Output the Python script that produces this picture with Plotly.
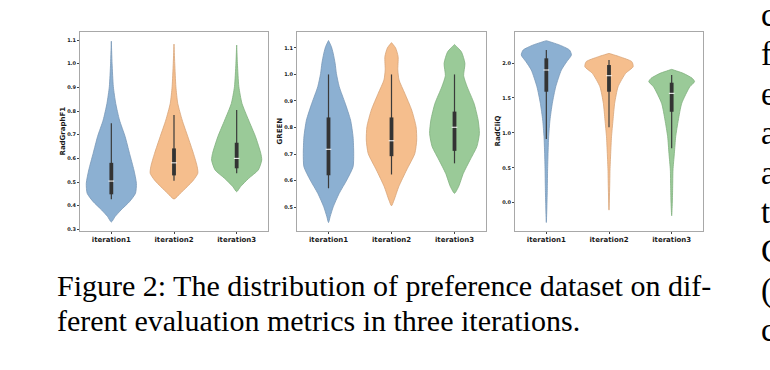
import plotly.graph_objects as go

# ---------------- data ----------------
categories = ["iteration1", "iteration2", "iteration3"]
metrics = ["RadGraphF1", "GREEN", "RadCliQ"]

# violin outlines: value levels and half-widths (category units)
rg_lv1 = [0.331, 0.354, 0.382, 0.417, 0.452, 0.494, 0.551, 0.621, 0.692, 0.762, 0.832, 0.903, 1.0, 1.095]
rg_hw1 = [0.0, 0.06, 0.155, 0.29, 0.385, 0.40, 0.36, 0.29, 0.22, 0.13, 0.07, 0.032, 0.012, 0.0]
rg_lv2 = [0.428, 0.452, 0.480, 0.508, 0.537, 0.565, 0.621, 0.692, 0.762, 0.832, 0.903, 1.0, 1.083]
rg_hw2 = [0.0, 0.10, 0.21, 0.31, 0.38, 0.37, 0.31, 0.22, 0.13, 0.06, 0.03, 0.012, 0.0]
rg_lv3 = [0.459, 0.480, 0.515, 0.551, 0.593, 0.621, 0.692, 0.762, 0.832, 0.903, 1.0, 1.079]
rg_hw3 = [0.0, 0.06, 0.19, 0.345, 0.40, 0.385, 0.30, 0.19, 0.085, 0.035, 0.012, 0.0]

gr_lv1 = [0.442, 0.464, 0.501, 0.552, 0.602, 0.652, 0.702, 0.765, 0.828, 0.891, 0.954, 1.004, 1.042, 1.08, 1.105, 1.128]
gr_hw1 = [0.0, 0.026, 0.075, 0.17, 0.29, 0.39, 0.40, 0.39, 0.35, 0.265, 0.17, 0.125, 0.105, 0.074, 0.045, 0.0]
gr_lv2 = [0.505, 0.526, 0.577, 0.640, 0.702, 0.753, 0.803, 0.866, 0.929, 0.979, 1.017, 1.067, 1.100, 1.120]
gr_hw2 = [0.0, 0.04, 0.115, 0.24, 0.37, 0.40, 0.39, 0.32, 0.21, 0.12, 0.10, 0.105, 0.065, 0.0]
gr_lv3 = [0.552, 0.577, 0.627, 0.677, 0.728, 0.778, 0.828, 0.891, 0.954, 0.995, 1.042, 1.085, 1.113]
gr_hw3 = [0.0, 0.065, 0.14, 0.245, 0.355, 0.395, 0.375, 0.31, 0.20, 0.145, 0.165, 0.11, 0.0]

rc_lv1 = [-0.283, -0.011, 0.228, 0.467, 0.706, 0.945, 1.183, 1.422, 1.661, 1.90, 2.019, 2.115, 2.186, 2.258, 2.32]
rc_hw1 = [0.0, 0.01, 0.016, 0.02, 0.027, 0.037, 0.058, 0.095, 0.15, 0.24, 0.325, 0.40, 0.37, 0.21, 0.0]
rc_lv2 = [-0.106, 0.228, 0.467, 0.706, 0.945, 1.183, 1.422, 1.661, 1.852, 1.947, 2.019, 2.09, 2.138]
rc_hw2 = [0.0, 0.011, 0.016, 0.027, 0.04, 0.064, 0.09, 0.145, 0.265, 0.385, 0.365, 0.17, 0.0]
rc_lv3 = [-0.187, -0.011, 0.228, 0.467, 0.706, 0.945, 1.183, 1.422, 1.661, 1.733, 1.78, 1.852, 1.909]
rc_hw3 = [0.0, 0.01, 0.016, 0.021, 0.043, 0.064, 0.106, 0.16, 0.29, 0.365, 0.33, 0.186, 0.0]

# inner box stats: whisker low, q1, median, q3, whisker high
rg_box = [[0.427, 0.448, 0.504, 0.581, 0.748],
          [0.505, 0.528, 0.581, 0.642, 0.783],
          [0.537, 0.558, 0.600, 0.666, 0.804]]
gr_box = [[0.571, 0.620, 0.718, 0.838, 1.000],
          [0.623, 0.692, 0.750, 0.838, 1.000],
          [0.665, 0.712, 0.801, 0.860, 1.000]]
rc_box = [[0.911, 1.589, 1.900, 2.067, 2.186],
          [1.079, 1.589, 1.818, 1.971, 2.043],
          [0.778, 1.302, 1.566, 1.718, 1.828]]

rg_ticks = [0.3, 0.4, 0.5, 0.6, 0.7, 0.8, 0.9, 1.0, 1.1]
gr_ticks = [0.5, 0.6, 0.7, 0.8, 0.9, 1.0, 1.1]
rc_ticks = [0.0, 0.5, 1.0, 1.5, 2.0]

caption_lines = ["Figure 2: The distribution of preference dataset on dif-",
                 "ferent evaluation metrics in three iterations."]
side_letters = ["c", "f", "e", "a", "a", "t", "C", "(", "c"]

# ---------------- styling ----------------
W, H = 770, 370
fills = ["#8CB0D2", "#F5BE8D", "#9ACA98"]
edges = ["#7898B8", "#D8A478", "#80B07E"]
panels = [
    dict(lv=[rg_lv1, rg_lv2, rg_lv3], hw=[rg_hw1, rg_hw2, rg_hw3], box=rg_box,
         ticks=rg_ticks, rng=[0.293, 1.134], px=(80, 268)),
    dict(lv=[gr_lv1, gr_lv2, gr_lv3], hw=[gr_hw1, gr_hw2, gr_hw3], box=gr_box,
         ticks=gr_ticks, rng=[0.41, 1.16], px=(297, 486)),
    dict(lv=[rc_lv1, rc_lv2, rc_lv3], hw=[rc_hw1, rc_hw2, rc_hw3], box=rc_box,
         ticks=rc_ticks, rng=[-0.405, 2.444], px=(515, 703)),
]
top_px, bot_px = 32, 231

fig = go.Figure()
layout = dict(width=W, height=H, margin=dict(l=0, r=0, t=0, b=0),
              paper_bgcolor="white", plot_bgcolor="white", showlegend=False)
annotations = []

for p_i, p in enumerate(panels):
    sfx = "" if p_i == 0 else str(p_i + 1)
    xr, yr = "x" + sfx, "y" + sfx
    for c in range(3):
        lv, hw = p["lv"][c], p["hw"][c]
        xs = [c + w for w in hw] + [c - w for w in hw[::-1]]
        ys = list(lv) + list(lv[::-1])
        fig.add_trace(go.Scatter(x=xs, y=ys, mode="lines", fill="toself",
                                 fillcolor=fills[c],
                                 line=dict(color=edges[c], width=0.8, shape="spline", smoothing=0.6),
                                 xaxis=xr, yaxis=yr, hoverinfo="skip"))
        wl, q1, med, q3, wh = p["box"][c]
        fig.add_trace(go.Scatter(x=[c, c], y=[wl, wh], mode="lines",
                                 line=dict(color="#3a3a3a", width=1.2),
                                 xaxis=xr, yaxis=yr, hoverinfo="skip"))
        fig.add_trace(go.Scatter(x=[c, c], y=[q1, q3], mode="lines",
                                 line=dict(color="#333333", width=3.8),
                                 xaxis=xr, yaxis=yr, hoverinfo="skip"))
        fig.add_trace(go.Scatter(x=[c], y=[med], mode="markers",
                                 marker=dict(symbol="line-ew", size=4,
                                             line=dict(color="white", width=1)),
                                 xaxis=xr, yaxis=yr, hoverinfo="skip"))
    x0, x1 = p["px"]
    layout["xaxis" + sfx] = dict(domain=[x0 / W, x1 / W], range=[-0.5, 2.5], anchor=yr,
                                 tickvals=[0, 1, 2], ticktext=categories,
                                 showline=True, mirror=True, linecolor="#a8a8a8", linewidth=1,
                                 ticks="outside", ticklen=2, tickcolor="#444", tickwidth=0.8,
                                 tickfont=dict(family="DejaVu Sans", size=7, color="#1a1a1a", weight="bold"),
                                 showgrid=False, zeroline=False, fixedrange=True)
    layout["yaxis" + sfx] = dict(domain=[1 - bot_px / H, 1 - top_px / H], range=p["rng"], anchor=xr,
                                 tickvals=p["ticks"], tickformat=".1f",
                                 showline=True, mirror=True, linecolor="#a8a8a8", linewidth=1,
                                 ticks="outside", ticklen=2, tickcolor="#444", tickwidth=0.8,
                                 tickfont=dict(family="DejaVu Sans", size=5, color="#1a1a1a", weight="bold"),
                                 showgrid=False, zeroline=False, fixedrange=True)
    annotations.append(dict(text=metrics[p_i], xref="paper", yref="paper",
                            x=(x0 - 18) / W, y=1 - (top_px + bot_px) / 2 / H,
                            xanchor="center", yanchor="middle", textangle=-90, showarrow=False,
                            font=dict(family="DejaVu Sans", size=7, color="#1a1a1a", weight="bold")))

cap_y = [285, 320]
for t, yy in zip(caption_lines, cap_y):
    annotations.append(dict(text=t, xref="paper", yref="paper", x=55 / W, y=1 - yy / H,
                            xanchor="left", yanchor="middle", showarrow=False,
                            font=dict(family="Liberation Serif", size=30, color="black")))

for k, ch in enumerate(side_letters):
    yy = 15 + 39.4 * k
    annotations.append(dict(text=ch, xref="paper", yref="paper", x=759 / W, y=1 - yy / H,
                            xanchor="left", yanchor="middle", showarrow=False,
                            font=dict(family="Liberation Serif", size=33, color="black")))

layout["annotations"] = annotations
fig.update_layout(**layout)
fig.write_html("out.html", config={"displayModeBar": False},
               post_script="document.body.style.margin='0';document.body.style.overflow='hidden';")
